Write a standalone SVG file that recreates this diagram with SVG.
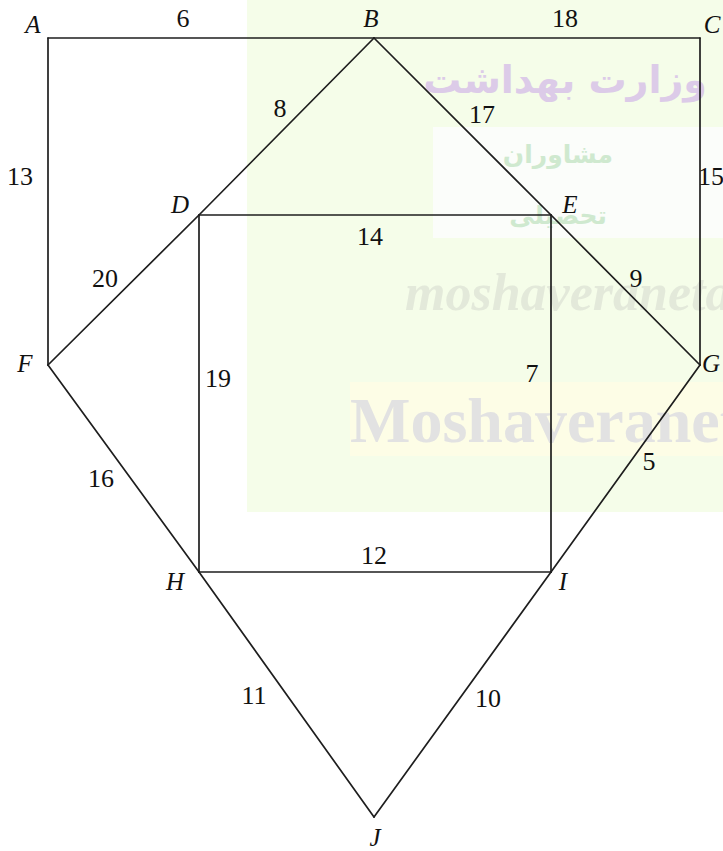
<svg xmlns="http://www.w3.org/2000/svg" width="723" height="851" viewBox="0 0 723 851">
<style>
.edge{stroke:#1e1e1e;stroke-width:1.7;fill:none;stroke-linecap:round;stroke-linejoin:round}
.w{font-family:"Liberation Serif","Times New Roman",serif;font-size:26px;fill:#111;text-anchor:middle}
.n{font-family:"Liberation Serif","Times New Roman",serif;font-size:25px;font-style:italic;fill:#111;text-anchor:middle}
.wm1{font-family:"Liberation Serif",serif;font-weight:bold;font-size:64px;fill:#e2e2e2}
.wm2{font-family:"Liberation Serif",serif;font-weight:bold;font-style:italic;font-size:52px;fill:#e3e9da}
.wm3{font-family:"DejaVu Sans",sans-serif;font-weight:bold;font-size:38px;fill:#dccbe8}
.wm4{font-family:"DejaVu Sans",sans-serif;font-weight:bold;font-size:25px;fill:#cfe9cf}
</style>
<rect x="0" y="0" width="723" height="851" fill="#ffffff"/>
<g id="watermark">
<rect x="247" y="0" width="476" height="512" fill="#f5fde9"/>
<rect x="350" y="382" width="373" height="74" fill="#fdfde6"/>
<rect x="433" y="127" width="290" height="111" fill="#fbfdfa"/>
<text class="wm2" x="405" y="310">moshaveraneta</text>
<text class="wm1" x="350" y="442">Moshaveranet</text>
<text class="wm3" x="707" y="93" text-anchor="end">وزارت بهداشت</text>
<text class="wm4" x="613" y="163" text-anchor="end">مشاوران</text>
<text class="wm4" x="607" y="224" text-anchor="end">تحصیلی</text>
</g>
<g id="connectors">
<line class="edge" x1="48" y1="38" x2="374" y2="38"/>
<line class="edge" x1="374" y1="38" x2="700" y2="38"/>
<line class="edge" x1="48" y1="38" x2="48" y2="365"/>
<line class="edge" x1="700" y1="38" x2="700" y2="365"/>
<line class="edge" x1="374" y1="38" x2="199" y2="215"/>
<line class="edge" x1="199" y1="215" x2="48" y2="365"/>
<line class="edge" x1="374" y1="38" x2="551" y2="215"/>
<line class="edge" x1="551" y1="215" x2="700" y2="365"/>
<line class="edge" x1="199" y1="215" x2="551" y2="215"/>
<line class="edge" x1="199" y1="215" x2="199" y2="572"/>
<line class="edge" x1="551" y1="215" x2="551" y2="572"/>
<line class="edge" x1="199" y1="572" x2="551" y2="572"/>
<line class="edge" x1="48" y1="365" x2="199" y2="572"/>
<line class="edge" x1="199" y1="572" x2="374" y2="817"/>
<line class="edge" x1="700" y1="365" x2="551" y2="572"/>
<line class="edge" x1="551" y1="572" x2="374" y2="817"/>
<g id="weights">
<text class="w" x="183" y="27">6</text>
<text class="w" x="565" y="27">18</text>
<text class="w" x="20" y="185">13</text>
<text class="w" x="711" y="185" text-anchor="start">15</text>
<text class="w" x="280" y="117">8</text>
<text class="w" x="482" y="123">17</text>
<text class="w" x="370" y="245">14</text>
<text class="w" x="105" y="287">20</text>
<text class="w" x="636" y="287">9</text>
<text class="w" x="218" y="387">19</text>
<text class="w" x="532" y="382">7</text>
<text class="w" x="101" y="487">16</text>
<text class="w" x="649" y="470">5</text>
<text class="w" x="374" y="564">12</text>
<text class="w" x="254" y="704">11</text>
<text class="w" x="488" y="707">10</text>
</g>
</g>
<g id="node-A"><text class="n" x="33" y="33">A</text></g>
<g id="node-B"><text class="n" x="371" y="27">B</text></g>
<g id="node-C"><text class="n" x="712" y="33">C</text></g>
<g id="node-D"><text class="n" x="180" y="213">D</text></g>
<g id="node-E"><text class="n" x="570" y="213">E</text></g>
<g id="node-F"><text class="n" x="25" y="372">F</text></g>
<g id="node-G"><text class="n" x="711" y="372" text-anchor="start">G</text></g>
<g id="node-H"><text class="n" x="175" y="590">H</text></g>
<g id="node-I"><text class="n" x="563" y="590">I</text></g>
<g id="node-J"><text class="n" x="375" y="846">J</text></g>
</svg>
